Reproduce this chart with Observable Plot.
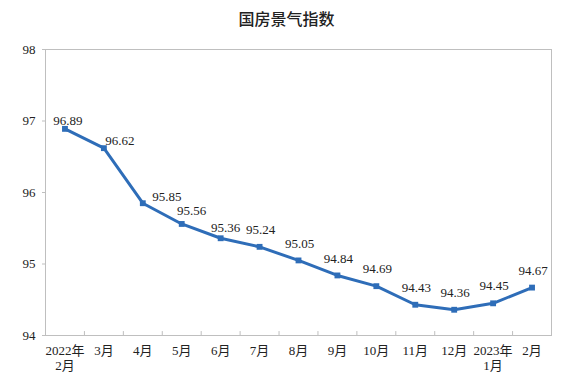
<!DOCTYPE html>
<html>
<head>
<meta charset="utf-8">
<script src="https://cdn.jsdelivr.net/npm/d3@7"></script>
<script src="https://cdn.jsdelivr.net/npm/@observablehq/plot@0.6"></script>
<style>
  body { margin: 0; background: #fff; }
  #title { height: 36px; line-height: 36px; text-align: center; font-family: "Noto Sans CJK SC", sans-serif; font-size: 16px; font-weight: 500; color: #222; width: 565px; padding-left: 8px; box-sizing: border-box; }
  #chart svg text { font-family: "Liberation Serif", "Times New Roman", "Noto Sans CJK SC", serif !important; }
</style>
</head>
<body>
<div id="title">国房景气指数</div>
<div id="chart"></div>
<script>
const months = ["2022年\n2月", "3月", "4月", "5月", "6月", "7月", "8月", "9月", "10月", "11月", "12月", "2023年\n1月", "2月"];
const values = [96.89, 96.62, 95.85, 95.56, 95.36, 95.24, 95.05, 94.84, 94.69, 94.43, 94.36, 94.45, 94.67];
const yTicks = [94, 95, 96, 97, 98];

const data = months.map((m, i) => ({i, month: m, value: values[i]}));
const boundaries = d3.range(months.length + 1).map(i => i - 0.5);
const color = "#2e6db8";
const font = "Liberation Serif, Times New Roman, Noto Sans CJK SC, serif";

const labelStyle = {x: "i", y: "value", text: d => d.value.toFixed(2), fontSize: 13, fontFamily: font, fill: "#222"};

const chart = Plot.plot({
  width: 565,
  height: 353,
  marginLeft: 45,
  marginRight: 14,
  marginTop: 13,
  marginBottom: 54,
  style: {fontFamily: font, fontSize: "13px", color: "#222", background: "#fff"},
  x: {domain: [-0.5, months.length - 0.5]},
  y: {domain: [94, 98]},
  marks: [
    Plot.frame({stroke: "#bfbfbf"}),
    Plot.ruleX(boundaries.slice(1, -1), {x: d => d, y1: 94, y2: 94.055, stroke: "#bfbfbf"}),
    Plot.axisX({ticks: d3.range(months.length), tickSize: 0, tickPadding: 9, tickFormat: i => months[i], fontSize: 13, fontFamily: font, lineHeight: 1.15, label: null}),
    Plot.axisY({ticks: yTicks, tickSize: 3, tickPadding: 7, tickFormat: d => String(d), stroke: "#bfbfbf", fontSize: 13, fontFamily: font, label: null}),
    Plot.line(data, {x: "i", y: "value", stroke: color, strokeWidth: 3}),
    Plot.dot(data, {x: "i", y: "value", symbol: "square", r: 3.3, fill: color}),
    Plot.text(data.filter(d => d.i === 0), {...labelStyle, dx: 3, dy: -8}),
    Plot.text(data.filter(d => d.i === 1), {...labelStyle, dx: 16, dy: -7}),
    Plot.text(data.filter(d => d.i === 2), {...labelStyle, dx: 24, dy: -6}),
    Plot.text(data.filter(d => d.i === 3), {...labelStyle, dx: 10, dy: -13}),
    Plot.text(data.filter(d => d.i === 4), {...labelStyle, dx: 5, dy: -10}),
    Plot.text(data.filter(d => d.i >= 5), {...labelStyle, dx: 1, dy: -17})
  ]
});
document.getElementById("chart").appendChild(chart);
</script>
</body>
</html>
